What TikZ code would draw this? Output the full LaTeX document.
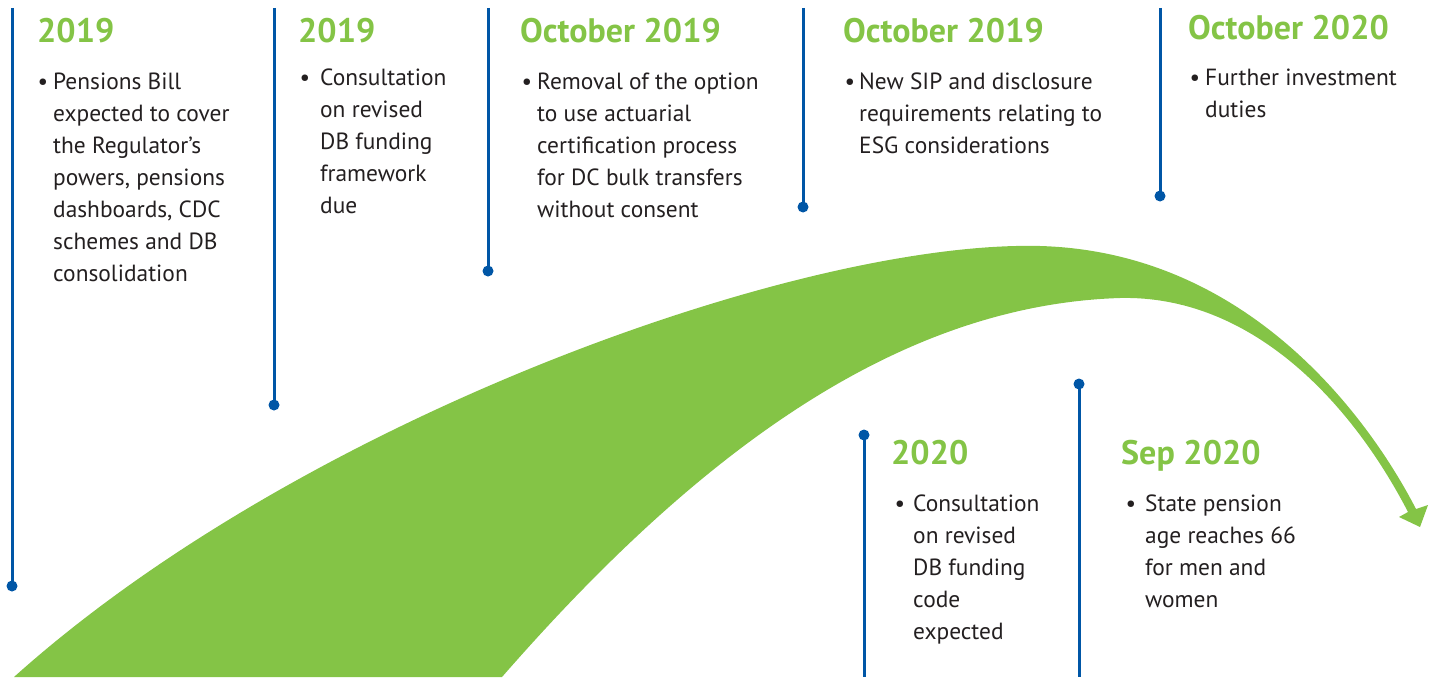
\documentclass[tikz,border=0pt]{standalone}
\usepackage{fontspec}
\setmainfont{PT Sans}
\usepackage{xcolor}
\definecolor{swoosh}{RGB}{132,196,70}
\definecolor{markerblue}{RGB}{0,86,166}
\definecolor{bodygray}{RGB}{35,31,32}

\tikzset{
  heading/.style={anchor=base west, inner sep=0pt, text=swoosh, font=\fontsize{34}{34}\selectfont\bfseries},
  % anchored at the baseline of the last line
  itemtext/.style={anchor=base west, inner sep=0pt, align=left, text=bodygray, font=\fontsize{23.4}{32}\selectfont},
  itembullet/.style={anchor=base, inner sep=0pt, text=bodygray, font=\fontsize{23.4}{32}\selectfont},
  marker/.style={markerblue, line width=3pt},
}

\begin{document}
\begin{tikzpicture}[x=1pt, y=-1pt]
  \useasboundingbox (0,0) rectangle (1439,677);

  % Swoosh arrow
  \fill[swoosh] (14,677) .. controls (300,420) and (800,240) .. (1040,246)
    .. controls (1250,252) and (1370,420) .. (1416,509)
    -- (1428,505) -- (1420,527) -- (1399,517) -- (1408,512)
    .. controls (1350,400) and (1250,295) .. (1120,298)
    .. controls (900,305) and (700,450) .. (502,677) -- cycle;

  % Marker lines hanging from the top
  \foreach \x/\y [count=\i] in {12/586, 274/405, 488/271, 803/207, 1160/196} {
    \coordinate (top\i) at (\x,8);
    \coordinate (pin\i) at (\x,\y);
    \draw[marker] (top\i) -- (pin\i);
    \fill[markerblue] (pin\i) circle (5.5pt);
  }
  % Marker lines rising from the bottom
  \foreach \x/\y [count=\i from 6] in {864/435, 1079/384} {
    \coordinate (pin\i) at (\x,\y);
    \coordinate (foot\i) at (\x,677);
    \draw[marker] (pin\i) -- (foot\i);
    \fill[markerblue] (pin\i) circle (5.5pt);
  }

  % 2019: Pensions Bill
  \node[heading] (yr1) at (37,42) {2019};
  \node[itembullet] (blt1) at (43,89) {\textbullet};
  \node[itemtext] (txt1) at (53,281) {Pensions Bill\\expected to cover\\the Regulator’s\\powers, pensions\\dashboards, CDC\\schemes and DB\\consolidation};

  % 2019: DB funding framework
  \node[heading] (yr2) at (298,42) {2019};
  \node[itembullet] (blt2) at (305,85) {\textbullet};
  \node[itemtext] (txt2) at (320,213) {Consultation\\on revised\\DB funding\\framework\\due};

  % October 2019: bulk transfers
  \node[heading] (yr3) at (520,42) {October 2019};
  \node[itembullet] (blt3) at (527,89) {\textbullet};
  \node[itemtext] (txt3) at (537,217) {Removal of the option\\to use actuarial\\certification process\\for DC bulk transfers\\without consent};

  % October 2019: ESG
  \node[heading] (yr4) at (843,42) {October 2019};
  \node[itembullet] (blt4) at (850,89) {\textbullet};
  \node[itemtext] (txt4) at (859,153) {New SIP and disclosure\\requirements relating to\\ESG considerations};

  % October 2020: investment duties
  \node[heading] (yr5) at (1188,40) {October 2020};
  \node[itembullet] (blt5) at (1195,85) {\textbullet};
  \node[itemtext] (txt5) at (1205,117) {Further investment\\duties};

  % 2020: DB funding code
  \node[heading] (yr6) at (891,464) {2020};
  \node[itembullet] (blt6) at (900,511) {\textbullet};
  \node[itemtext] (txt6) at (913,639) {Consultation\\on revised\\DB funding\\code\\expected};

  % Sep 2020: State pension age
  \node[heading] (yr7) at (1121,464) {Sep 2020};
  \node[itembullet] (blt7) at (1131,511) {\textbullet};
  \node[itemtext] (txt7) at (1145,607) {State pension\\age reaches 66\\for men and\\women};
\end{tikzpicture}
\end{document}
